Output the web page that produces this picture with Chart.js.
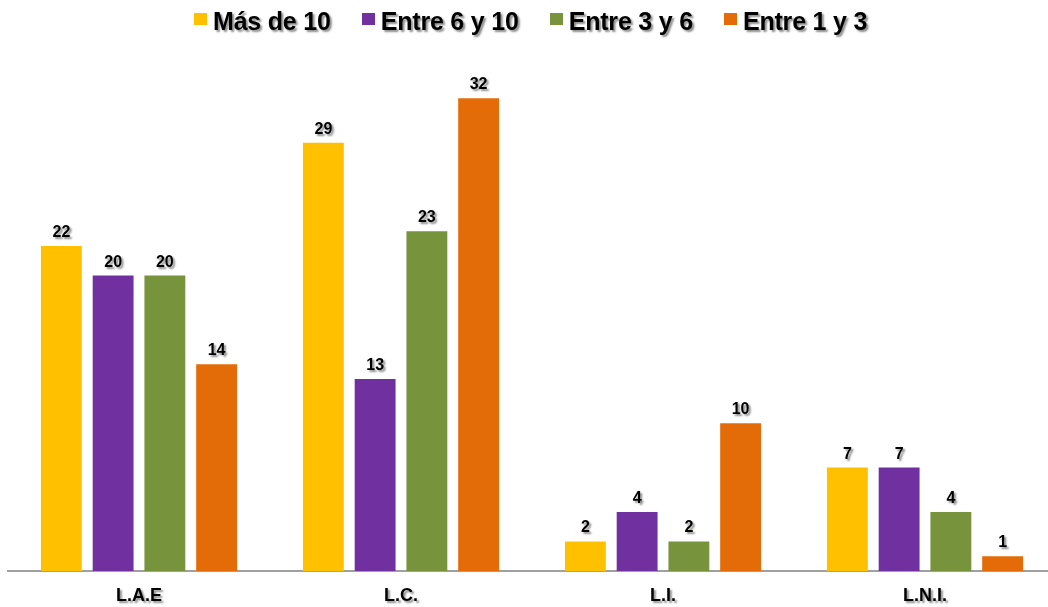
<!DOCTYPE html>
<html>
<head>
<meta charset="utf-8">
<script src="https://cdn.jsdelivr.net/npm/chart.js@4"></script>
<style>
  html, body { margin:0; padding:0; width:1048px; height:607px; overflow:hidden; background:#fff; }
  #wrap { position:relative; width:1056px; height:607px; }
  #legend { position:absolute; left:194px; top:9px; display:flex; align-items:flex-start;
            font-family:"Liberation Sans", Arial, sans-serif; font-weight:bold; font-size:25px; line-height:25px;
            letter-spacing:-0.2px;
            color:#000; text-shadow: 2px 2px 2px rgba(0,0,0,0.45); white-space:pre; }
  .item { display:flex; align-items:flex-start; }
  .item + .item { margin-left:31px; }
  .box { width:13px; height:12px; margin-top:4px; margin-right:6px; }
</style>
</head>
<body>
<div id="wrap">
  <canvas id="c" width="1056" height="607"></canvas>
  <div id="legend"></div>
</div>
<script>
const categories = ['L.A.E', 'L.C.', 'L.I.', 'L.N.I.'];
const seriesNames = ['Más de 10', 'Entre 6 y 10', 'Entre 3 y 6', 'Entre 1 y 3'];
const masDe10 = [22, 29, 2, 7];
const entre6y10 = [20, 13, 4, 7];
const entre3y6 = [20, 23, 2, 4];
const entre1y3 = [14, 32, 10, 1];
const colors = ['#FFC000', '#7030A0', '#77933C', '#E36C09'];
const seriesValues = [masDe10, entre6y10, entre3y6, entre1y3];

const legend = document.getElementById('legend');
seriesNames.forEach((n, i) => {
  const it = document.createElement('div'); it.className = 'item';
  const b = document.createElement('div'); b.className = 'box'; b.style.background = colors[i];
  const t = document.createElement('span'); t.textContent = n;
  it.appendChild(b); it.appendChild(t); legend.appendChild(it);
});

const labelsPlugin = {
  id: 'labelsPlugin',
  afterDatasetsDraw(chart) {
    const ctx = chart.ctx;
    ctx.save();
    ctx.font = 'bold 16px "Liberation Sans", Arial, sans-serif';
    ctx.fillStyle = '#000';
    ctx.textAlign = 'center';
    ctx.textBaseline = 'alphabetic';
    ctx.shadowColor = 'rgba(0,0,0,0.45)';
    ctx.shadowOffsetX = 2; ctx.shadowOffsetY = 2; ctx.shadowBlur = 2;
    chart.data.datasets.forEach((ds, di) => {
      const meta = chart.getDatasetMeta(di);
      meta.data.forEach((el, i) => {
        ctx.fillText(String(ds.data[i]), el.x, el.y - 9);
      });
    });
    const xs = chart.scales.x;
    ctx.font = 'bold 18px "Liberation Sans", Arial, sans-serif';
    categories.forEach((c, i) => {
      ctx.fillText(c, xs.getPixelForTick(i), 601);
    });
    ctx.restore();
  }
};

new Chart(document.getElementById('c'), {
  type: 'bar',
  data: {
    labels: categories,
    datasets: seriesNames.map((n, i) => ({
      label: n,
      data: seriesValues[i],
      backgroundColor: colors[i],
      borderWidth: 0,
      barPercentage: 0.79,
      categoryPercentage: 0.79
    }))
  },
  options: {
    responsive: false,
    animation: false,
    devicePixelRatio: 1,
    layout: { padding: { top: 54, left: 8, right: 0, bottom: 0 } },
    plugins: { legend: { display: false }, tooltip: { enabled: false } },
    scales: {
      x: {
        grid: { display: false, drawTicks: false },
        border: { display: true, color: '#a0a0a0', width: 2 },
        ticks: { display: false },
        afterFit(scale) { scale.height = 36; }
      },
      y: {
        display: false,
        min: 0,
        max: 35
      }
    }
  },
  plugins: [labelsPlugin]
});
</script>
</body>
</html>
